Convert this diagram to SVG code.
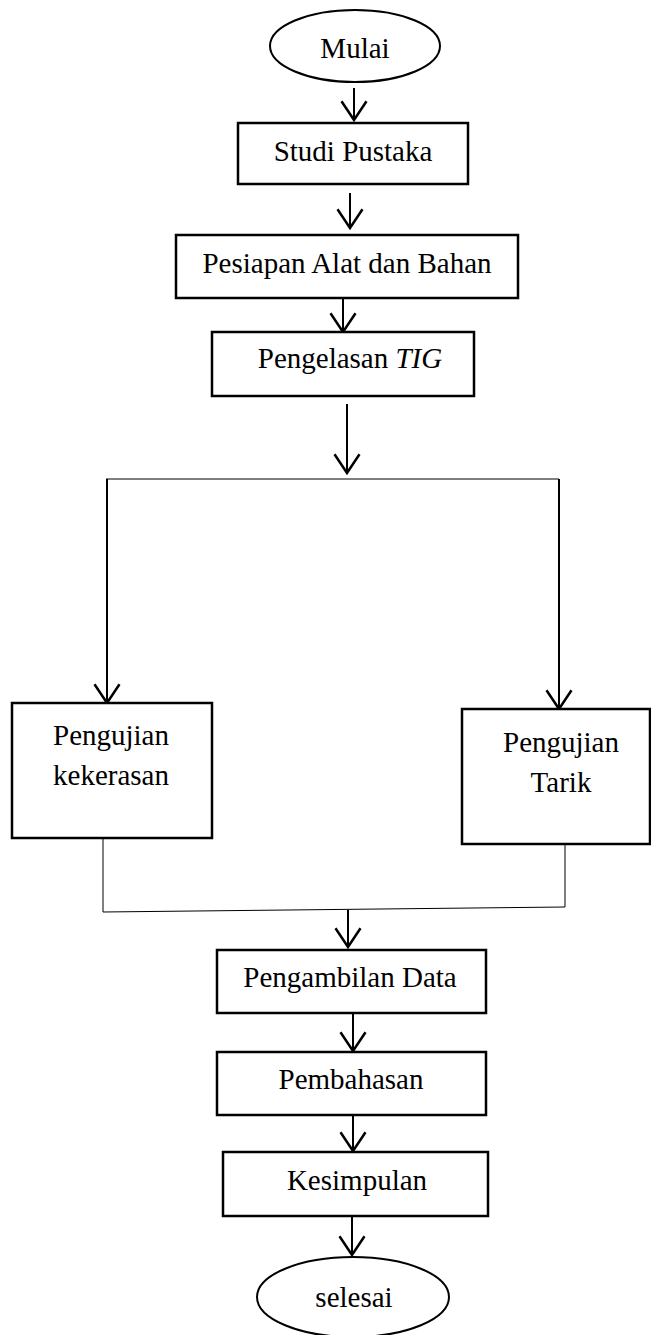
<svg xmlns="http://www.w3.org/2000/svg" width="651" height="1335" viewBox="0 0 651 1335">
<style>
.box{fill:#fff;stroke:#000;stroke-width:2.5}
.ell{fill:#fff;stroke:#000;stroke-width:2}
.t{font-family:"Liberation Serif","Times New Roman",serif;font-size:29px;fill:#000;text-anchor:middle}
.c{fill:none;stroke:#000;stroke-width:2}
.thin{fill:none;stroke:#000;stroke-width:1}
</style>
<defs>
<marker id="ah" markerUnits="userSpaceOnUse" markerWidth="30" markerHeight="30" viewBox="-2 -12 20 24" refX="15" refY="0" orient="auto" overflow="visible">
<path d="M0,-10 L15,0 L0,10" fill="none" stroke="#000" stroke-width="2"/>
</marker>
</defs>
<rect width="651" height="1335" fill="#fff"/>
<g id="connectors">
<line class="c" x1="354" y1="88" x2="354" y2="120" marker-end="url(#ah)"/>
<line class="c" x1="350" y1="193" x2="350" y2="228" marker-end="url(#ah)"/>
<line class="c" x1="343" y1="298" x2="343" y2="332" marker-end="url(#ah)"/>
<line class="c" x1="347" y1="404" x2="347" y2="473" marker-end="url(#ah)"/>
<line class="thin" x1="106" y1="479" x2="559" y2="479"/>
<line class="c" x1="107" y1="479" x2="107" y2="703" marker-end="url(#ah)"/>
<line class="c" x1="559" y1="479" x2="559" y2="709" marker-end="url(#ah)"/>
<line class="thin" x1="103" y1="838" x2="103" y2="912"/>
<line class="thin" x1="565" y1="844" x2="565" y2="907"/>
<line class="thin" x1="103" y1="912" x2="565" y2="907"/>
<line class="c" x1="348" y1="910" x2="348" y2="947" marker-end="url(#ah)"/>
<line class="c" x1="353" y1="1014" x2="353" y2="1051" marker-end="url(#ah)"/>
<line class="c" x1="353" y1="1116" x2="353" y2="1151" marker-end="url(#ah)"/>
<line class="c" x1="352" y1="1217" x2="352" y2="1255" marker-end="url(#ah)"/>
</g>
<g id="mulai">
<ellipse class="ell" cx="355" cy="46" rx="85" ry="36"/>
<text class="t" x="355" y="58">Mulai</text>
</g>
<g id="studi-pustaka">
<rect class="box" x="238" y="123" width="230" height="61"/>
<text class="t" x="353" y="161">Studi Pustaka</text>
</g>
<g id="persiapan">
<rect class="box" x="176" y="235" width="342" height="63"/>
<text class="t" x="347" y="273">Pesiapan Alat dan Bahan</text>
</g>
<g id="pengelasan">
<rect class="box" x="212" y="332" width="262" height="64"/>
<text class="t" x="350" y="368">Pengelasan <tspan font-style="italic">TIG</tspan></text>
</g>
<g id="kekerasan">
<rect class="box" x="12" y="703" width="200" height="135"/>
<text class="t" x="111" y="745">Pengujian</text>
<text class="t" x="111" y="785">kekerasan</text>
</g>
<g id="tarik">
<rect class="box" x="462" y="709" width="188" height="135"/>
<text class="t" x="561" y="752">Pengujian</text>
<text class="t" x="561" y="792">Tarik</text>
</g>
<g id="pengambilan">
<rect class="box" x="217" y="950" width="269" height="63"/>
<text class="t" x="350" y="987">Pengambilan Data</text>
</g>
<g id="pembahasan">
<rect class="box" x="217" y="1052" width="269" height="63"/>
<text class="t" x="351" y="1089">Pembahasan</text>
</g>
<g id="kesimpulan">
<rect class="box" x="223" y="1152" width="265" height="64"/>
<text class="t" x="357" y="1190">Kesimpulan</text>
</g>
<g id="selesai">
<ellipse class="ell" cx="353" cy="1297" rx="96" ry="40"/>
<text class="t" x="354" y="1307">selesai</text>
</g>
</svg>
